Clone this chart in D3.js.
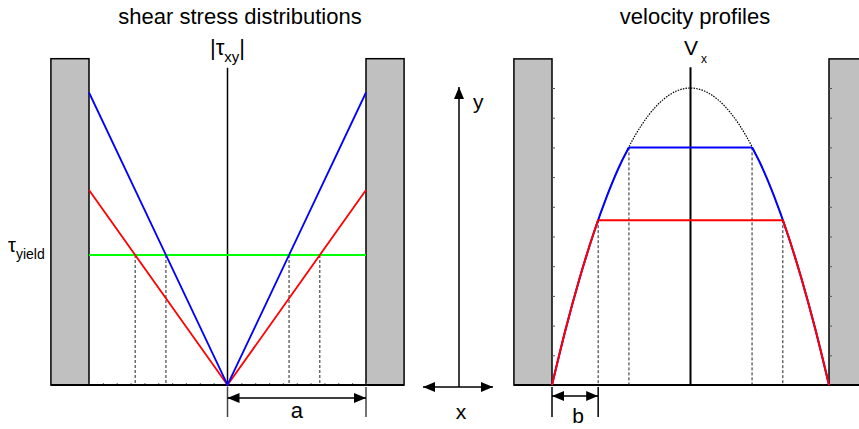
<!DOCTYPE html>
<html>
<head>
<meta charset="utf-8">
<script src="https://cdn.jsdelivr.net/npm/d3@7"></script>
<style>
  body { margin: 0; background: #fff; }
  text { font-family: "Liberation Sans", Arial, sans-serif; fill: #000; }
</style>
</head>
<body>
<script>
var w = 859;
var h = 429;

// two flow cases: |tau_xy| at the wall, in units of the yield stress
var caseColors = ["blue", "red"];
var wallStress = [2.25, 1.5];
var yieldStress = 1;

// newtonian (dotted) velocity profile: x/a and v/vmax
var profileX = [-1, -0.9, -0.8, -0.7, -0.6, -0.5, -0.4, -0.3, -0.2, -0.1, 0,
                0.1, 0.2, 0.3, 0.4, 0.5, 0.6, 0.7, 0.8, 0.9, 1];
var profileV = [0, 0.19, 0.36, 0.51, 0.64, 0.75, 0.84, 0.91, 0.96, 0.99, 1,
                0.99, 0.96, 0.91, 0.84, 0.75, 0.64, 0.51, 0.36, 0.19, 0];

// plug velocity of each case
var plugVelocity = [0.80, 0.555];

var wallWidth = 0.275;   // in units of a

var svg = d3.select("body")
            .append("svg")
            .attr("width", w)
            .attr("height", h);

// arrow heads
var defs = svg.append("defs");
defs.append("marker")
    .attr("id", "head")
    .attr("viewBox", "0 0 12 10")
    .attr("refX", 12)
    .attr("refY", 5)
    .attr("markerWidth", 12)
    .attr("markerHeight", 10)
    .attr("markerUnits", "userSpaceOnUse")
    .attr("orient", "auto-start-reverse")
    .append("path")
    .attr("d", "M0,0L12,5L0,10Z")
    .attr("fill", "#000");

// ---------- left panel: shear stress ----------
var xL = d3.scaleLinear().domain([-1, 1]).range([89, 366]);
var yL = d3.scaleLinear().domain([0, 2.5]).range([385, 60]);

var left = svg.append("g");

left.append("text")
    .attr("x", 240)
    .attr("y", 24)
    .attr("text-anchor", "middle")
    .style("font-size", "22px")
    .text("shear stress distributions");

// walls
[-1, 1].forEach(function(s) {
    var x0 = xL(s < 0 ? -1 - wallWidth : 1);
    left.append("rect")
        .attr("x", x0)
        .attr("y", yL(2.51))
        .attr("width", xL(wallWidth) - xL(0))
        .attr("height", yL(0) - yL(2.51))
        .attr("fill", "#c0c0c0")
        .attr("stroke", "#000")
        .attr("stroke-width", 1.5);
});

// small ticks along the bottom
left.append("g")
    .attr("transform", "translate(0," + yL(0) + ")")
    .call(d3.axisTop(xL).ticks(20).tickSize(2).tickFormat(""))
    .call(function(g) { g.select(".domain").remove(); })
    .selectAll("line").attr("stroke", "#666");

left.append("line")
    .attr("x1", xL(-1 - wallWidth)).attr("x2", xL(1 + wallWidth))
    .attr("y1", yL(0)).attr("y2", yL(0))
    .attr("stroke", "#000").attr("stroke-width", 2);

// center axis
left.append("line")
    .attr("x1", xL(0)).attr("x2", xL(0))
    .attr("y1", yL(2.44)).attr("y2", yL(0))
    .attr("stroke", "#000").attr("stroke-width", 1.5);

var tauLabel = left.append("text")
    .attr("x", xL(0))
    .attr("y", 55)
    .attr("text-anchor", "middle")
    .style("font-size", "22px");
tauLabel.append("tspan").text("|τ");
tauLabel.append("tspan").attr("dy", 7).style("font-size", "15px").text("xy");
tauLabel.append("tspan").attr("dy", -7).text("|");

// dashed lines down from the yield points
wallStress.forEach(function(tw) {
    var e = yieldStress / tw;
    [-e, e].forEach(function(xv) {
        left.append("line")
            .attr("x1", xL(xv)).attr("x2", xL(xv))
            .attr("y1", yL(yieldStress)).attr("y2", yL(0))
            .attr("stroke", "#222")
            .attr("stroke-width", 1)
            .attr("stroke-dasharray", "3,2");
    });
});

// yield stress level
left.append("line")
    .attr("x1", xL(-1)).attr("x2", xL(1))
    .attr("y1", yL(yieldStress)).attr("y2", yL(yieldStress))
    .attr("stroke", "#00ff00").attr("stroke-width", 2);

var yieldLabel = left.append("text")
    .attr("x", 8)
    .attr("y", 252)
    .style("font-size", "20px");
yieldLabel.append("tspan").text("τ");
yieldLabel.append("tspan").attr("dy", 7).style("font-size", "14px").text("yield");

// stress distributions (linear in x)
var stressLine = d3.line()
    .x(function(d) { return xL(d[0]); })
    .y(function(d) { return yL(d[1]); });

[1, 0].forEach(function(i) {
    left.append("path")
        .attr("d", stressLine([[-1, wallStress[i]], [0, 0], [1, wallStress[i]]]))
        .attr("fill", "none")
        .attr("stroke", caseColors[i])
        .attr("stroke-width", 1.8);
});

// dimension a
var dimY = yL(0) + 13;
[0, 1].forEach(function(xv) {
    left.append("line")
        .attr("x1", xL(xv)).attr("x2", xL(xv))
        .attr("y1", yL(0) + 2).attr("y2", yL(0) + 32)
        .attr("stroke", "#444").attr("stroke-width", 1.5);
});
left.append("line")
    .attr("x1", xL(0)).attr("x2", xL(1))
    .attr("y1", dimY).attr("y2", dimY)
    .attr("stroke", "#000").attr("stroke-width", 1.5)
    .attr("marker-start", "url(#head)")
    .attr("marker-end", "url(#head)");
left.append("text")
    .attr("x", (xL(0) + xL(1)) / 2)
    .attr("y", 418)
    .attr("text-anchor", "middle")
    .style("font-size", "22px")
    .text("a");

// ---------- coordinate arrows in the middle ----------
var axX = 459, axY = 387;
svg.append("line")
    .attr("x1", axX).attr("x2", axX)
    .attr("y1", axY).attr("y2", 87)
    .attr("stroke", "#000").attr("stroke-width", 1.5)
    .attr("marker-end", "url(#head)");
svg.append("line")
    .attr("x1", 423).attr("x2", 493)
    .attr("y1", axY).attr("y2", axY)
    .attr("stroke", "#000").attr("stroke-width", 1.5)
    .attr("marker-start", "url(#head)")
    .attr("marker-end", "url(#head)");
svg.append("text").attr("x", 473).attr("y", 109)
    .style("font-size", "21px").text("y");
svg.append("text").attr("x", 461).attr("y", 419)
    .attr("text-anchor", "middle")
    .style("font-size", "21px").text("x");

// ---------- right panel: velocity ----------
var xR = d3.scaleLinear().domain([-1, 1]).range([552, 829]);
var yR = d3.scaleLinear().domain([0, 1]).range([385, 88]);

var right = svg.append("g");

right.append("text")
    .attr("x", 695)
    .attr("y", 24)
    .attr("text-anchor", "middle")
    .style("font-size", "22px")
    .text("velocity profiles");

[-1, 1].forEach(function(s) {
    var x0 = xR(s < 0 ? -1 - wallWidth : 1);
    right.append("rect")
        .attr("x", x0)
        .attr("y", yR(1.098))
        .attr("width", xR(wallWidth) - xR(0))
        .attr("height", yR(0) - yR(1.098))
        .attr("fill", "#c0c0c0")
        .attr("stroke", "#000")
        .attr("stroke-width", 1.5);
});

// small ticks on the inner wall edges
[-1, 1].forEach(function(s) {
    right.append("g")
        .attr("transform", "translate(" + xR(s) + ",0)")
        .call(d3.axisRight(yR).ticks(10).tickSize(3).tickFormat(""))
        .call(function(g) { g.select(".domain").remove(); })
        .selectAll("line").attr("stroke", "#555");
});

right.append("line")
    .attr("x1", xR(-1 - wallWidth)).attr("x2", xR(1 + wallWidth))
    .attr("y1", yR(0)).attr("y2", yR(0))
    .attr("stroke", "#000").attr("stroke-width", 2);

right.append("line")
    .attr("x1", xR(0)).attr("x2", xR(0))
    .attr("y1", yR(1.07)).attr("y2", yR(0))
    .attr("stroke", "#000").attr("stroke-width", 2);

var vLabel = right.append("text")
    .attr("x", 684)
    .attr("y", 55)
    .style("font-size", "21px");
vLabel.append("tspan").text("V");
vLabel.append("tspan").attr("dx", 3).attr("dy", 8).style("font-size", "12px").text("x");

var profile = profileX.map(function(x, i) { return [x, profileV[i]]; });

var velLine = d3.line()
    .x(function(d) { return xR(d[0]); })
    .y(function(d) { return yR(d[1]); })
    .curve(d3.curveMonotoneX);

// dashed lines from the plug edges
[0, 1].forEach(function(i) {
    var e = yieldStress / wallStress[i];
    [-e, e].forEach(function(xv) {
        right.append("line")
            .attr("x1", xR(xv)).attr("x2", xR(xv))
            .attr("y1", yR(plugVelocity[i])).attr("y2", yR(0))
            .attr("stroke", "#222")
            .attr("stroke-width", 1)
            .attr("stroke-dasharray", "3,2");
    });
});

// newtonian reference profile
right.append("path")
    .attr("d", velLine(profile))
    .attr("fill", "none")
    .attr("stroke", "#000")
    .attr("stroke-width", 1.2)
    .attr("stroke-dasharray", "1.5,1.2");

// plug-flow profiles: blue first, red on top
[0, 1].forEach(function(i) {
    var e = yieldStress / wallStress[i];
    var pv = plugVelocity[i];
    var leftFlank = profile.filter(function(d) { return d[0] < -e; }).concat([[-e, pv]]);
    var rightFlank = [[e, pv]].concat(profile.filter(function(d) { return d[0] > e; }));
    [leftFlank, rightFlank].forEach(function(pts) {
        right.append("path")
            .attr("d", velLine(pts))
            .attr("fill", "none")
            .attr("stroke", caseColors[i])
            .attr("stroke-width", 2);
    });
    right.append("line")
        .attr("x1", xR(-e)).attr("x2", xR(e))
        .attr("y1", yR(pv)).attr("y2", yR(pv))
        .attr("stroke", caseColors[i])
        .attr("stroke-width", 2);
});

// dimension b
var bEdge = -yieldStress / wallStress[1];
var dimYR = yR(0) + 11;
[-1, bEdge].forEach(function(xv) {
    right.append("line")
        .attr("x1", xR(xv)).attr("x2", xR(xv))
        .attr("y1", yR(0) + 2).attr("y2", yR(0) + 32)
        .attr("stroke", "#000").attr("stroke-width", 1.5);
});
right.append("line")
    .attr("x1", xR(-1)).attr("x2", xR(bEdge))
    .attr("y1", dimYR).attr("y2", dimYR)
    .attr("stroke", "#000").attr("stroke-width", 1.5)
    .attr("marker-start", "url(#head)")
    .attr("marker-end", "url(#head)");
right.append("text")
    .attr("x", (xR(-1) + xR(bEdge)) / 2 + 3)
    .attr("y", 423)
    .attr("text-anchor", "middle")
    .style("font-size", "21px")
    .text("b");
</script>
</body>
</html>
